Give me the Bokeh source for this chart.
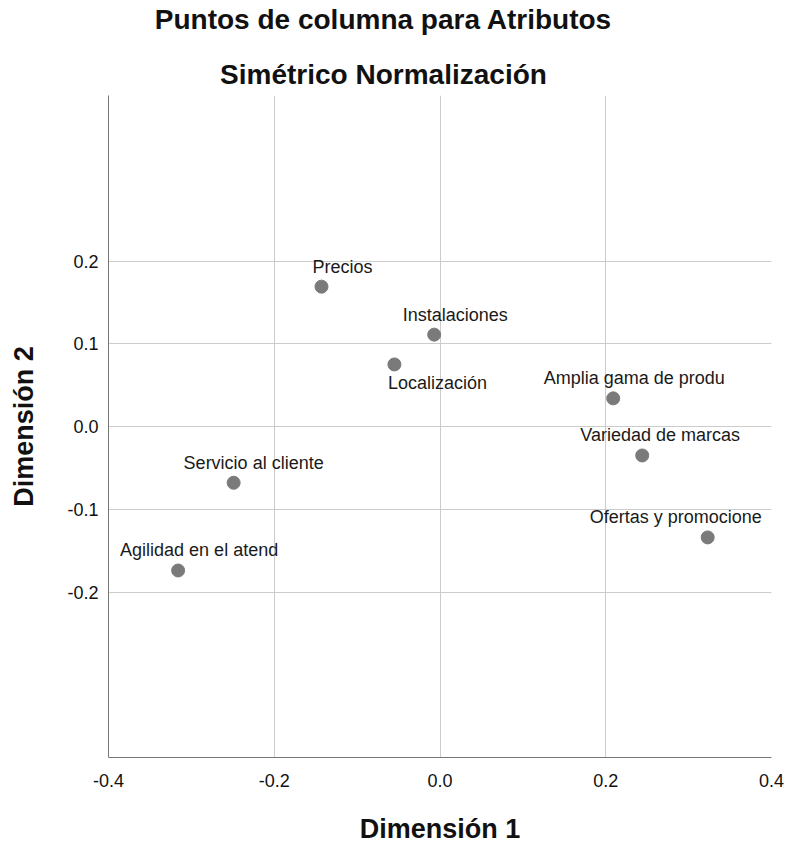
from bokeh.plotting import figure
from bokeh.layouts import column
from bokeh.models import Range1d, FixedTicker, PrintfTickFormatter, ColumnDataSource
from bokeh.core.properties import value
from bokeh.embed import file_html
from bokeh.resources import INLINE

# Data
labels = ["Precios", "Instalaciones", "Localización", "Amplia gama de produ",
          "Variedad de marcas", "Ofertas y promocione", "Servicio al cliente",
          "Agilidad en el atend"]
dim1 = [-0.143, -0.007, -0.055, 0.209, 0.244, 0.323, -0.249, -0.316]
dim2 = [0.169, 0.111, 0.075, 0.034, -0.035, -0.134, -0.068, -0.174]
x_ticks = [-0.4, -0.2, 0.0, 0.2, 0.4]
y_ticks = [-0.2, -0.1, 0.0, 0.1, 0.2]
title_lines = ["Puntos de columna para Atributos", "Simétrico Normalización"]

# label placement (pixels), styling only
label_dx = [21, 21, 43, 21, 18, -32, 20, 21]
label_dy = [-20, -20, 19, -20, -20, -20, -20, -20]

FONT = "Liberation Sans"
W, HEAD_H, H = 785, 95, 846
ML, MR = 108, 14

# ---- header with the two title lines (canvas pixel space, y downward) ----
head = figure(width=W, height=HEAD_H, output_backend="svg", toolbar_location=None,
              x_range=Range1d(ML, W - MR), y_range=Range1d(HEAD_H, 0),
              x_axis_location=None, y_axis_location=None, min_border=0,
              min_border_left=ML, min_border_right=MR, title=None)
head.outline_line_color = None
head.xgrid.visible = False
head.ygrid.visible = False
head.text(x=[383, 383], y=[19, 74], text=title_lines, text_align="center",
          text_baseline="middle", text_font=value(FONT), text_font_size="28px",
          text_font_style="bold", text_color="#111111")

# ---- main scatter plot ----
p = figure(width=W, height=H - HEAD_H, output_backend="svg", toolbar_location=None,
           x_range=Range1d(-0.4, 0.4), y_range=Range1d(-0.4, 0.4),
           min_border_left=ML, min_border_right=MR, min_border_top=0,
           min_border_bottom=89, title=None)
p.outline_line_color = None
p.background_fill_color = "white"
p.border_fill_color = "white"

p.xaxis.ticker = FixedTicker(ticks=x_ticks)
p.yaxis.ticker = FixedTicker(ticks=y_ticks)
p.xaxis.formatter = PrintfTickFormatter(format="%.1f")
p.yaxis.formatter = PrintfTickFormatter(format="%.1f")
for ax in (p.xaxis, p.yaxis):
    ax.major_tick_line_color = None
    ax.minor_tick_line_color = None
    ax.major_tick_out = 0
    ax.major_tick_in = 0
    ax.axis_line_color = "#777777"
    ax.axis_line_width = 1
    ax.major_label_text_font = FONT
    ax.major_label_text_font_size = "18px"
    ax.major_label_text_color = "#111111"
    ax.axis_label_text_font = FONT
    ax.axis_label_text_font_size = "27px"
    ax.axis_label_text_font_style = "bold"
    ax.axis_label_text_color = "#111111"
p.xaxis.axis_label = "Dimensión 1"
p.yaxis.axis_label = "Dimensión 2"
p.xaxis.major_label_standoff = 16
p.yaxis.major_label_standoff = 10
p.xaxis.axis_label_standoff = 24
p.yaxis.axis_label_standoff = 25

p.xgrid.ticker = FixedTicker(ticks=[-0.2, 0.0, 0.2, 0.4])
p.ygrid.ticker = FixedTicker(ticks=y_ticks)
p.xgrid.grid_line_color = "#cccccc"
p.ygrid.grid_line_color = "#cccccc"
p.xgrid.grid_line_width = 1
p.ygrid.grid_line_width = 1

src = ColumnDataSource(dict(x=dim1, y=dim2, name=labels, dx=label_dx, dy=label_dy))
p.scatter("x", "y", source=src, size=13, fill_color="#7a7a7a", line_color="#7a7a7a")
p.text("x", "y", text="name", source=src, x_offset="dx", y_offset="dy",
       text_align="center", text_baseline="middle", text_font=value(FONT),
       text_font_size="18px", text_color="#1a1a1a")

layout = column(head, p, spacing=0)
open("out.html", "w").write(file_html(layout, INLINE))
